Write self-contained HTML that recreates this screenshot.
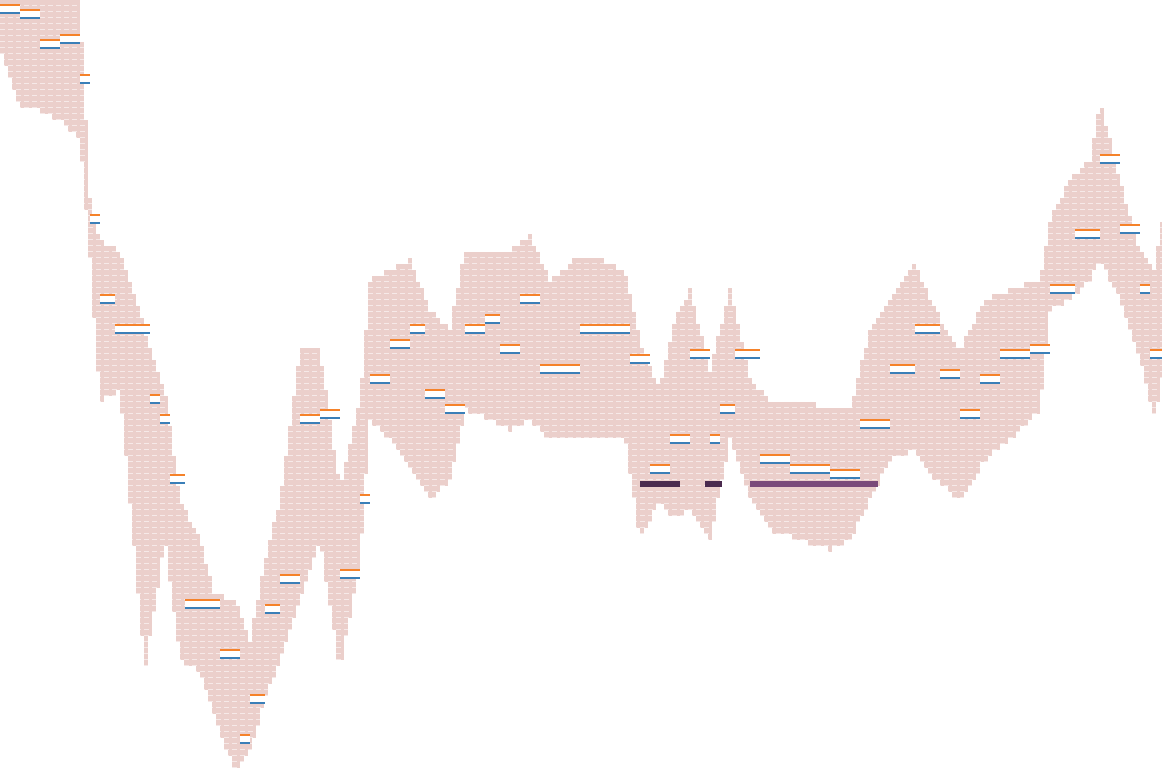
<!DOCTYPE html>
<html><head><meta charset="utf-8"><style>
html,body{margin:0;padding:0;background:#fff;width:1162px;height:770px;overflow:hidden}
</style></head><body>
<svg id="chart" width="1162" height="770" xmlns="http://www.w3.org/2000/svg">
<defs>
<pattern id="rows" width="8" height="6" patternUnits="userSpaceOnUse">
<rect x="0" y="5" width="5" height="1" fill="#fff" opacity="0.55"/>
</pattern>
</defs>
<g id="env"></g>
<rect x="0" y="0" width="1162" height="770" fill="url(#rows)"/>
<g id="dark"></g>
<g id="price"></g>
</svg>
<script>
const envX=[0,20,40,60,80,90,100,120,145,165,180,200,215,235,250,265,280,300,320,340,360,370,390,410,430,450,465,490,510,530,550,575,600,625,640,660,675,690,710,730,750,770,800,830,850,870,890,915,935,960,985,1010,1040,1050,1070,1090,1100,1120,1140,1155,1162];
const envTop=[0,0,0,0,0,200,240,250,330,390,500,540,595,600,640,560,500,350,350,490,400,280,270,260,310,330,250,250,250,235,280,260,260,270,340,390,320,290,370,290,380,400,400,410,410,330,300,265,310,350,300,290,280,220,180,160,100,180,250,270,220];
const envBot=[50,110,110,120,140,260,400,390,670,540,660,670,720,770,750,700,660,600,540,670,560,420,440,470,500,480,410,420,430,420,440,440,440,440,540,500,520,510,540,440,500,530,540,550,540,500,460,450,480,500,460,440,410,310,300,280,260,300,360,420,380];
const priceX=[0,20,40,60,80,90,100,115,130,150,160,170,185,205,220,240,250,265,280,300,320,340,360,370,390,410,425,445,465,485,500,520,540,560,580,610,630,650,670,690,710,720,735,760,790,830,860,890,915,940,960,980,1000,1030,1050,1075,1100,1120,1140,1150];
const priceY=[10,15,45,40,80,220,300,330,330,400,420,480,605,605,655,740,700,610,580,420,415,575,500,380,345,330,395,410,330,320,350,300,370,370,330,330,360,470,440,355,440,410,355,460,470,475,425,370,330,375,415,380,355,350,290,235,160,230,290,355];
const darkStart=[640,705,750];
const darkEnd=[680,722,878];
const darkY=[484,484,484];
const ns='http://www.w3.org/2000/svg';
function interp(xs,ys,x){for(let i=0;i<xs.length-1;i++){if(x>=xs[i]&&x<=xs[i+1]){const t=(x-xs[i])/(xs[i+1]-xs[i]||1);return ys[i]+t*(ys[i+1]-ys[i]);}}return ys[ys.length-1];}
function el(t,a,p){const e=document.createElementNS(ns,t);for(const k in a)e.setAttribute(k,a[k]);p.appendChild(e);return e;}
const env=document.getElementById('env');
for(let x=0;x<1162;x+=4){
  const t=Math.round(interp(envX,envTop,x+2)/6)*6, b=Math.round(interp(envX,envBot,x+2)/6)*6;
  const r=el('rect',{x:x,y:t,width:4,height:Math.max(0,b-t),fill:'#ebcfcb'},env);
  
  
}
const dark=document.getElementById('dark');
for(let i=0;i<darkStart.length;i++){
  const r=el('rect',{x:darkStart[i],y:darkY[i]-3,width:darkEnd[i]-darkStart[i],height:6,fill:i==2?'#7a4a7a':'#4a2a4e'},dark);
  
  
}
const pg=document.getElementById('price');
for(let i=0;i<priceX.length;i++){
  const x=priceX[i], w=(i<priceX.length-1?priceX[i+1]-x:12);
  const y=priceY[i];
  const s=el('rect',{x:x,y:y-6,width:w,height:9,fill:'#fff'},pg);
  
  
  const o=el('rect',{x:x,y:y-6,width:w,height:2,fill:'#f5822a'},pg);
  
  
  const b=el('rect',{x:x,y:y+2,width:w,height:2,fill:'#3a7fb8'},pg);
  
  
}
</script>
</body></html>
